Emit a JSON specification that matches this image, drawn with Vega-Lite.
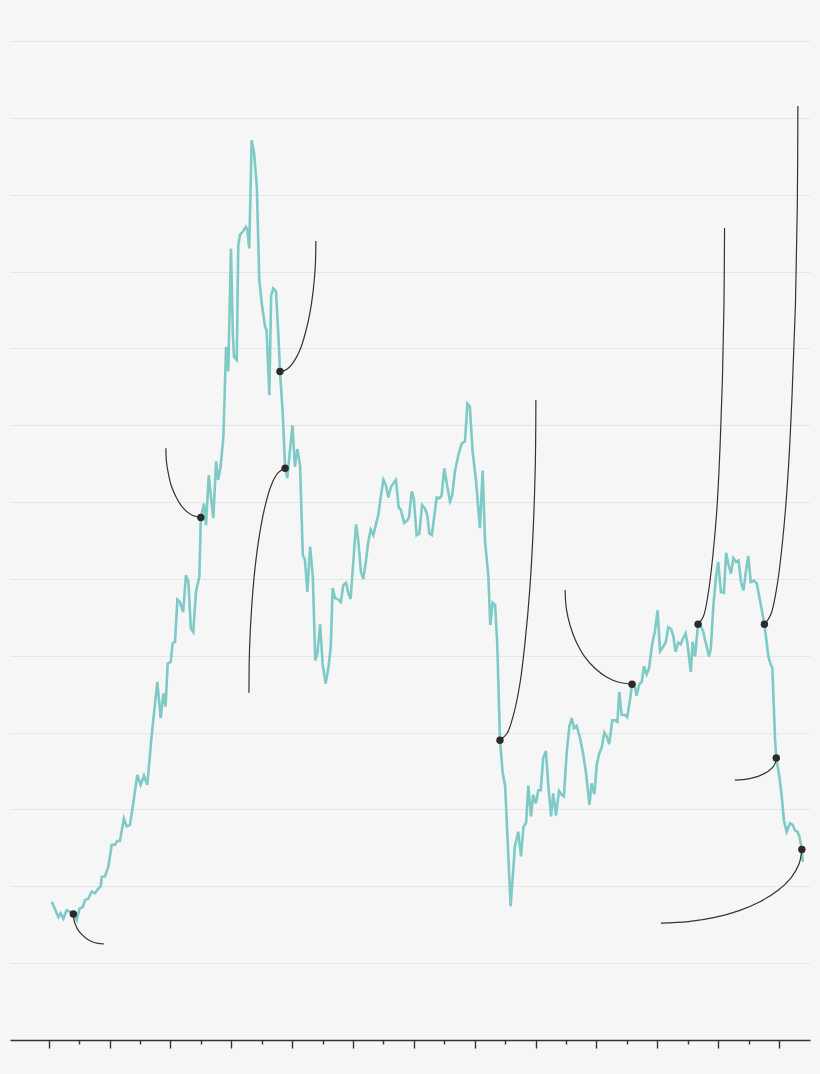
{
  "$schema": "https://vega.github.io/schema/vega-lite/v6.json",
  "width": 800,
  "height": 999,
  "autosize": {"type": "none"},
  "padding": {"left": 10, "top": 41, "right": 10, "bottom": 34},
  "background": "#f6f6f6",
  "config": {"view": {"stroke": null}},
  "datasets": {
    "series": [
      {"year": 1994.10, "value": 18.0}, {"year": 1994.32, "value": 16.0}, {"year": 1994.39, "value": 16.5}, {"year": 1994.48, "value": 15.8},
      {"year": 1994.59, "value": 16.9}, {"year": 1994.70, "value": 16.7}, {"year": 1994.81, "value": 16.4, "marked": true}, {"year": 1994.92, "value": 15.6},
      {"year": 1995.01, "value": 17.1}, {"year": 1995.12, "value": 17.3}, {"year": 1995.19, "value": 18.2}, {"year": 1995.30, "value": 18.4},
      {"year": 1995.41, "value": 19.3}, {"year": 1995.52, "value": 19.1}, {"year": 1995.63, "value": 19.7}, {"year": 1995.71, "value": 20.0},
      {"year": 1995.74, "value": 21.2}, {"year": 1995.85, "value": 21.3}, {"year": 1995.96, "value": 22.6}, {"year": 1996.07, "value": 25.4},
      {"year": 1996.18, "value": 25.4}, {"year": 1996.25, "value": 25.9}, {"year": 1996.34, "value": 25.9}, {"year": 1996.47, "value": 28.8},
      {"year": 1996.56, "value": 27.8}, {"year": 1996.67, "value": 28.0}, {"year": 1996.78, "value": 30.8}, {"year": 1996.91, "value": 34.5},
      {"year": 1997.02, "value": 33.2}, {"year": 1997.13, "value": 34.4}, {"year": 1997.24, "value": 33.2}, {"year": 1997.38, "value": 39.5},
      {"year": 1997.57, "value": 46.6}, {"year": 1997.68, "value": 41.9}, {"year": 1997.77, "value": 45.1}, {"year": 1997.84, "value": 43.4},
      {"year": 1997.91, "value": 49.0}, {"year": 1998.01, "value": 49.2}, {"year": 1998.07, "value": 51.6}, {"year": 1998.15, "value": 51.8},
      {"year": 1998.23, "value": 57.3}, {"year": 1998.31, "value": 57.0}, {"year": 1998.42, "value": 55.7}, {"year": 1998.51, "value": 60.5},
      {"year": 1998.59, "value": 59.6}, {"year": 1998.67, "value": 53.6}, {"year": 1998.75, "value": 53.1}, {"year": 1998.84, "value": 58.3},
      {"year": 1998.95, "value": 60.3}, {"year": 1999.00, "value": 68.0, "marked": true}, {"year": 1999.10, "value": 69.8}, {"year": 1999.17, "value": 67.0},
      {"year": 1999.26, "value": 73.5}, {"year": 1999.32, "value": 71.1}, {"year": 1999.41, "value": 67.9}, {"year": 1999.50, "value": 75.3},
      {"year": 1999.57, "value": 72.9}, {"year": 1999.65, "value": 74.6}, {"year": 1999.74, "value": 78.5}, {"year": 1999.83, "value": 90.2},
      {"year": 1999.90, "value": 87.0}, {"year": 1999.99, "value": 103.0}, {"year": 2000.05, "value": 92.0}, {"year": 2000.09, "value": 88.9},
      {"year": 2000.18, "value": 88.5}, {"year": 2000.23, "value": 103.5}, {"year": 2000.29, "value": 104.8}, {"year": 2000.38, "value": 105.2},
      {"year": 2000.48, "value": 105.8}, {"year": 2000.53, "value": 105.4}, {"year": 2000.59, "value": 103.0}, {"year": 2000.67, "value": 117.1},
      {"year": 2000.75, "value": 115.4}, {"year": 2000.84, "value": 111.0}, {"year": 2000.92, "value": 98.9}, {"year": 2001.00, "value": 95.9},
      {"year": 2001.11, "value": 92.8}, {"year": 2001.16, "value": 92.4}, {"year": 2001.25, "value": 83.9}, {"year": 2001.31, "value": 96.9},
      {"year": 2001.38, "value": 97.8}, {"year": 2001.47, "value": 97.4}, {"year": 2001.55, "value": 91.5}, {"year": 2001.60, "value": 87.0, "marked": true},
      {"year": 2001.69, "value": 81.6}, {"year": 2001.77, "value": 74.4, "marked": true}, {"year": 2001.84, "value": 73.1}, {"year": 2001.93, "value": 76.8},
      {"year": 2002.01, "value": 80.0}, {"year": 2002.09, "value": 74.6}, {"year": 2002.17, "value": 76.9}, {"year": 2002.26, "value": 74.8},
      {"year": 2002.35, "value": 63.1}, {"year": 2002.42, "value": 62.5}, {"year": 2002.50, "value": 58.3}, {"year": 2002.59, "value": 64.2},
      {"year": 2002.68, "value": 60.3}, {"year": 2002.76, "value": 49.4}, {"year": 2002.83, "value": 50.3}, {"year": 2002.92, "value": 54.1},
      {"year": 2003.00, "value": 49.0}, {"year": 2003.10, "value": 46.4}, {"year": 2003.19, "value": 48.4}, {"year": 2003.27, "value": 51.2},
      {"year": 2003.33, "value": 58.8}, {"year": 2003.41, "value": 57.5}, {"year": 2003.52, "value": 57.3}, {"year": 2003.60, "value": 57.0},
      {"year": 2003.68, "value": 59.2}, {"year": 2003.77, "value": 59.5}, {"year": 2003.85, "value": 58.1}, {"year": 2003.92, "value": 57.4},
      {"year": 2004.01, "value": 62.2}, {"year": 2004.10, "value": 67.1}, {"year": 2004.17, "value": 65.1}, {"year": 2004.26, "value": 60.9},
      {"year": 2004.34, "value": 60.0}, {"year": 2004.43, "value": 62.5}, {"year": 2004.50, "value": 64.8}, {"year": 2004.58, "value": 66.4},
      {"year": 2004.67, "value": 65.7}, {"year": 2004.76, "value": 67.2}, {"year": 2004.83, "value": 68.3}, {"year": 2004.92, "value": 70.9},
      {"year": 2005.00, "value": 72.9}, {"year": 2005.08, "value": 72.2}, {"year": 2005.16, "value": 70.6}, {"year": 2005.25, "value": 72.0},
      {"year": 2005.32, "value": 72.4}, {"year": 2005.41, "value": 72.9}, {"year": 2005.50, "value": 69.3}, {"year": 2005.57, "value": 69.0},
      {"year": 2005.68, "value": 67.3}, {"year": 2005.78, "value": 67.6}, {"year": 2005.84, "value": 68.0}, {"year": 2005.93, "value": 71.4},
      {"year": 2006.00, "value": 70.4}, {"year": 2006.09, "value": 65.7}, {"year": 2006.18, "value": 65.9}, {"year": 2006.27, "value": 69.6},
      {"year": 2006.37, "value": 69.1}, {"year": 2006.44, "value": 68.3}, {"year": 2006.51, "value": 65.9}, {"year": 2006.59, "value": 65.7},
      {"year": 2006.75, "value": 70.6}, {"year": 2006.84, "value": 70.5}, {"year": 2006.91, "value": 70.8}, {"year": 2007.00, "value": 74.4},
      {"year": 2007.10, "value": 72.0}, {"year": 2007.19, "value": 70.1}, {"year": 2007.26, "value": 70.9}, {"year": 2007.35, "value": 74.0},
      {"year": 2007.46, "value": 76.1}, {"year": 2007.57, "value": 77.6}, {"year": 2007.68, "value": 77.9}, {"year": 2007.76, "value": 82.8},
      {"year": 2007.84, "value": 82.4}, {"year": 2007.93, "value": 76.6}, {"year": 2008.04, "value": 72.9}, {"year": 2008.17, "value": 66.6},
      {"year": 2008.26, "value": 74.1}, {"year": 2008.34, "value": 64.8}, {"year": 2008.45, "value": 60.3}, {"year": 2008.51, "value": 54.0},
      {"year": 2008.59, "value": 56.9}, {"year": 2008.67, "value": 56.6}, {"year": 2008.74, "value": 51.6}, {"year": 2008.83, "value": 39.0, "marked": true},
      {"year": 2008.92, "value": 34.7}, {"year": 2009.00, "value": 33.1}, {"year": 2009.18, "value": 17.4}, {"year": 2009.32, "value": 25.2},
      {"year": 2009.43, "value": 27.1}, {"year": 2009.52, "value": 23.9}, {"year": 2009.60, "value": 27.7}, {"year": 2009.69, "value": 28.3},
      {"year": 2009.76, "value": 33.1}, {"year": 2009.85, "value": 29.1}, {"year": 2009.92, "value": 31.9}, {"year": 2010.01, "value": 30.8},
      {"year": 2010.09, "value": 32.5}, {"year": 2010.17, "value": 32.5}, {"year": 2010.25, "value": 36.7}, {"year": 2010.34, "value": 37.6},
      {"year": 2010.42, "value": 33.0}, {"year": 2010.51, "value": 29.1}, {"year": 2010.58, "value": 32.1}, {"year": 2010.67, "value": 29.2},
      {"year": 2010.77, "value": 32.4}, {"year": 2010.86, "value": 31.9}, {"year": 2010.93, "value": 31.7}, {"year": 2011.02, "value": 37.3},
      {"year": 2011.11, "value": 40.8}, {"year": 2011.19, "value": 41.9}, {"year": 2011.26, "value": 40.6}, {"year": 2011.35, "value": 40.9},
      {"year": 2011.46, "value": 39.3}, {"year": 2011.57, "value": 37.1}, {"year": 2011.66, "value": 34.7}, {"year": 2011.77, "value": 30.6},
      {"year": 2011.84, "value": 33.4}, {"year": 2011.93, "value": 32.0}, {"year": 2012.01, "value": 35.8}, {"year": 2012.09, "value": 37.3},
      {"year": 2012.17, "value": 38.0}, {"year": 2012.26, "value": 40.0}, {"year": 2012.34, "value": 39.5}, {"year": 2012.42, "value": 38.5},
      {"year": 2012.52, "value": 41.6}, {"year": 2012.61, "value": 41.6}, {"year": 2012.69, "value": 41.4}, {"year": 2012.75, "value": 45.3},
      {"year": 2012.83, "value": 42.3}, {"year": 2012.94, "value": 42.3}, {"year": 2013.01, "value": 42.0}, {"year": 2013.10, "value": 44.2},
      {"year": 2013.17, "value": 46.3, "marked": true}, {"year": 2013.24, "value": 46.4}, {"year": 2013.32, "value": 44.8}, {"year": 2013.41, "value": 46.3},
      {"year": 2013.49, "value": 46.6}, {"year": 2013.56, "value": 48.6}, {"year": 2013.65, "value": 47.6}, {"year": 2013.73, "value": 48.4},
      {"year": 2013.82, "value": 51.2}, {"year": 2013.87, "value": 52.3}, {"year": 2013.92, "value": 53.1}, {"year": 2014.01, "value": 55.9},
      {"year": 2014.09, "value": 50.6}, {"year": 2014.18, "value": 51.1}, {"year": 2014.28, "value": 51.8}, {"year": 2014.36, "value": 53.7},
      {"year": 2014.45, "value": 53.5}, {"year": 2014.53, "value": 52.5}, {"year": 2014.60, "value": 50.5}, {"year": 2014.69, "value": 51.7},
      {"year": 2014.77, "value": 51.5}, {"year": 2014.85, "value": 52.3}, {"year": 2014.93, "value": 52.9}, {"year": 2014.99, "value": 51.6},
      {"year": 2015.10, "value": 47.9}, {"year": 2015.16, "value": 51.8}, {"year": 2015.24, "value": 49.9}, {"year": 2015.34, "value": 54.1, "marked": true},
      {"year": 2015.40, "value": 54.2}, {"year": 2015.51, "value": 53.1}, {"year": 2015.62, "value": 51.2}, {"year": 2015.70, "value": 49.9},
      {"year": 2015.76, "value": 51.0}, {"year": 2015.84, "value": 56.4}, {"year": 2015.93, "value": 60.3}, {"year": 2016.00, "value": 62.2},
      {"year": 2016.09, "value": 58.3}, {"year": 2016.19, "value": 58.2}, {"year": 2016.26, "value": 63.4}, {"year": 2016.33, "value": 62.0},
      {"year": 2016.42, "value": 60.7}, {"year": 2016.50, "value": 62.7}, {"year": 2016.59, "value": 62.2}, {"year": 2016.67, "value": 62.4},
      {"year": 2016.75, "value": 59.6}, {"year": 2016.83, "value": 58.5}, {"year": 2016.91, "value": 60.9}, {"year": 2016.99, "value": 63.0},
      {"year": 2017.07, "value": 59.6}, {"year": 2017.18, "value": 59.8}, {"year": 2017.27, "value": 59.4}, {"year": 2017.35, "value": 57.7},
      {"year": 2017.52, "value": 54.1, "marked": true}, {"year": 2017.61, "value": 51.2}, {"year": 2017.65, "value": 49.9}, {"year": 2017.73, "value": 48.8},
      {"year": 2017.78, "value": 48.5}, {"year": 2017.87, "value": 39.0}, {"year": 2017.91, "value": 36.7, "marked": true}, {"year": 2018.01, "value": 34.3},
      {"year": 2018.09, "value": 31.7}, {"year": 2018.16, "value": 28.6}, {"year": 2018.25, "value": 27.1}, {"year": 2018.36, "value": 28.2},
      {"year": 2018.45, "value": 28.0}, {"year": 2018.52, "value": 27.3}, {"year": 2018.60, "value": 27.1}, {"year": 2018.67, "value": 26.5},
      {"year": 2018.75, "value": 24.8, "marked": true}, {"year": 2018.78, "value": 23.2}
    ],
    "connectors": [
      {"id": 1, "step": 0, "year": 1994.81, "value": 16.40}, {"id": 1, "step": 1, "year": 1994.83, "value": 15.64}, {"id": 1, "step": 2, "year": 1994.89, "value": 14.90},
      {"id": 1, "step": 3, "year": 1994.98, "value": 14.23}, {"id": 1, "step": 4, "year": 1995.11, "value": 13.64}, {"id": 1, "step": 5, "year": 1995.26, "value": 13.15},
      {"id": 1, "step": 6, "year": 1995.43, "value": 12.79}, {"id": 1, "step": 7, "year": 1995.62, "value": 12.57}, {"id": 1, "step": 8, "year": 1995.82, "value": 12.49},

      {"id": 2, "step": 0, "year": 1999.00, "value": 68.01}, {"id": 2, "step": 1, "year": 1998.78, "value": 68.18}, {"id": 2, "step": 2, "year": 1998.56, "value": 68.69},
      {"id": 2, "step": 3, "year": 1998.36, "value": 69.52}, {"id": 2, "step": 4, "year": 1998.19, "value": 70.64}, {"id": 2, "step": 5, "year": 1998.04, "value": 72.00},
      {"id": 2, "step": 6, "year": 1997.94, "value": 73.55}, {"id": 2, "step": 7, "year": 1997.87, "value": 75.24}, {"id": 2, "step": 8, "year": 1997.85, "value": 76.99},

      {"id": 3, "step": 0, "year": 2001.60, "value": 86.96}, {"id": 3, "step": 1, "year": 2001.83, "value": 87.29}, {"id": 3, "step": 2, "year": 2002.05, "value": 88.25},
      {"id": 3, "step": 3, "year": 2002.26, "value": 89.83}, {"id": 3, "step": 4, "year": 2002.43, "value": 91.94}, {"id": 3, "step": 5, "year": 2002.58, "value": 94.52},
      {"id": 3, "step": 6, "year": 2002.69, "value": 97.46}, {"id": 3, "step": 7, "year": 2002.76, "value": 100.65}, {"id": 3, "step": 8, "year": 2002.78, "value": 103.97},

      {"id": 4, "step": 0, "year": 2001.77, "value": 74.39}, {"id": 4, "step": 1, "year": 2001.54, "value": 73.83}, {"id": 4, "step": 2, "year": 2001.31, "value": 72.17},
      {"id": 4, "step": 3, "year": 2001.11, "value": 69.47}, {"id": 4, "step": 4, "year": 2000.93, "value": 65.84}, {"id": 4, "step": 5, "year": 2000.78, "value": 61.41},
      {"id": 4, "step": 6, "year": 2000.67, "value": 56.36}, {"id": 4, "step": 7, "year": 2000.60, "value": 50.89}, {"id": 4, "step": 8, "year": 2000.58, "value": 45.19},

      {"id": 5, "step": 0, "year": 2008.83, "value": 39.04}, {"id": 5, "step": 1, "year": 2009.06, "value": 39.89}, {"id": 5, "step": 2, "year": 2009.28, "value": 42.41},
      {"id": 5, "step": 3, "year": 2009.49, "value": 46.49}, {"id": 5, "step": 4, "year": 2009.66, "value": 52.00}, {"id": 5, "step": 5, "year": 2009.81, "value": 58.70},
      {"id": 5, "step": 6, "year": 2009.92, "value": 66.35}, {"id": 5, "step": 7, "year": 2009.99, "value": 74.65}, {"id": 5, "step": 8, "year": 2010.01, "value": 83.28},

      {"id": 6, "step": 0, "year": 2013.17, "value": 46.32}, {"id": 6, "step": 1, "year": 2012.74, "value": 46.55}, {"id": 6, "step": 2, "year": 2012.33, "value": 47.25},
      {"id": 6, "step": 3, "year": 2011.95, "value": 48.38}, {"id": 6, "step": 4, "year": 2011.61, "value": 49.90}, {"id": 6, "step": 5, "year": 2011.34, "value": 51.76},
      {"id": 6, "step": 6, "year": 2011.14, "value": 53.87}, {"id": 6, "step": 7, "year": 2011.01, "value": 56.16}, {"id": 6, "step": 8, "year": 2010.97, "value": 58.55},

      {"id": 7, "step": 0, "year": 2015.34, "value": 54.09}, {"id": 7, "step": 1, "year": 2015.51, "value": 55.08}, {"id": 7, "step": 2, "year": 2015.67, "value": 58.01},
      {"id": 7, "step": 3, "year": 2015.82, "value": 62.78}, {"id": 7, "step": 4, "year": 2015.96, "value": 69.19}, {"id": 7, "step": 5, "year": 2016.06, "value": 77.01},
      {"id": 7, "step": 6, "year": 2016.14, "value": 85.92}, {"id": 7, "step": 7, "year": 2016.19, "value": 95.60}, {"id": 7, "step": 8, "year": 2016.21, "value": 105.66},

      {"id": 8, "step": 0, "year": 2017.52, "value": 54.09}, {"id": 8, "step": 1, "year": 2017.73, "value": 55.38}, {"id": 8, "step": 2, "year": 2017.94, "value": 59.22},
      {"id": 8, "step": 3, "year": 2018.13, "value": 65.45}, {"id": 8, "step": 4, "year": 2018.30, "value": 73.84}, {"id": 8, "step": 5, "year": 2018.43, "value": 84.06},
      {"id": 8, "step": 6, "year": 2018.54, "value": 95.72}, {"id": 8, "step": 7, "year": 2018.60, "value": 108.37}, {"id": 8, "step": 8, "year": 2018.62, "value": 121.53},

      {"id": 9, "step": 0, "year": 2017.91, "value": 36.65}, {"id": 9, "step": 1, "year": 2017.88, "value": 36.10}, {"id": 9, "step": 2, "year": 2017.81, "value": 35.57},
      {"id": 9, "step": 3, "year": 2017.68, "value": 35.08}, {"id": 9, "step": 4, "year": 2017.51, "value": 34.66}, {"id": 9, "step": 5, "year": 2017.31, "value": 34.31},
      {"id": 9, "step": 6, "year": 2017.07, "value": 34.04}, {"id": 9, "step": 7, "year": 2016.82, "value": 33.88}, {"id": 9, "step": 8, "year": 2016.55, "value": 33.83},

      {"id": 10, "step": 0, "year": 2018.75, "value": 24.81}, {"id": 10, "step": 1, "year": 2018.66, "value": 22.94}, {"id": 10, "step": 2, "year": 2018.40, "value": 21.14},
      {"id": 10, "step": 3, "year": 2017.97, "value": 19.48}, {"id": 10, "step": 4, "year": 2017.39, "value": 18.03}, {"id": 10, "step": 5, "year": 2016.69, "value": 16.84},
      {"id": 10, "step": 6, "year": 2015.89, "value": 15.95}, {"id": 10, "step": 7, "year": 2015.02, "value": 15.40}, {"id": 10, "step": 8, "year": 2014.12, "value": 15.22}
    ]
  },
  "encoding": {
    "x": {
      "field": "year",
      "type": "quantitative",
      "scale": {"domain": [1992.728, 2019.018], "nice": false, "zero": false},
      "axis": {
        "title": null,
        "labels": false,
        "grid": false,
        "values": [1994, 1995, 1996, 1997, 1998, 1999, 2000, 2001, 2002, 2003, 2004, 2005, 2006, 2007, 2008, 2009, 2010, 2011, 2012, 2013, 2014, 2015, 2016, 2017, 2018],
        "domainColor": "#333333",
        "domainWidth": 1.5,
        "tickColor": "#333333",
        "tickWidth": 1.4,
        "tickSize": {"condition": {"test": "datum.value % 2 === 0", "value": 8}, "value": 4}
      }
    },
    "y": {
      "field": "value",
      "type": "quantitative",
      "scale": {"domain": [0, 130], "nice": false},
      "axis": {
        "title": null,
        "labels": false,
        "ticks": false,
        "domain": false,
        "grid": true,
        "gridColor": "#e6e6e6",
        "gridWidth": 1,
        "values": [10, 20, 30, 40, 50, 60, 70, 80, 90, 100, 110, 120, 130]
      }
    }
  },
  "layer": [
    {
      "data": {"name": "series"},
      "mark": {"type": "line", "color": "#7ecac6", "strokeWidth": 2.6}
    },
    {
      "data": {"name": "connectors"},
      "mark": {"type": "line", "color": "#333333", "strokeWidth": 1.2, "interpolate": "catmull-rom"},
      "encoding": {
        "detail": {"field": "id", "type": "nominal"},
        "order": {"field": "step", "type": "quantitative"}
      }
    },
    {
      "data": {"name": "series"},
      "transform": [{"filter": "datum.marked === true"}],
      "mark": {"type": "point", "filled": true, "color": "#2b2b2b", "opacity": 1, "size": 55}
    }
  ]
}
